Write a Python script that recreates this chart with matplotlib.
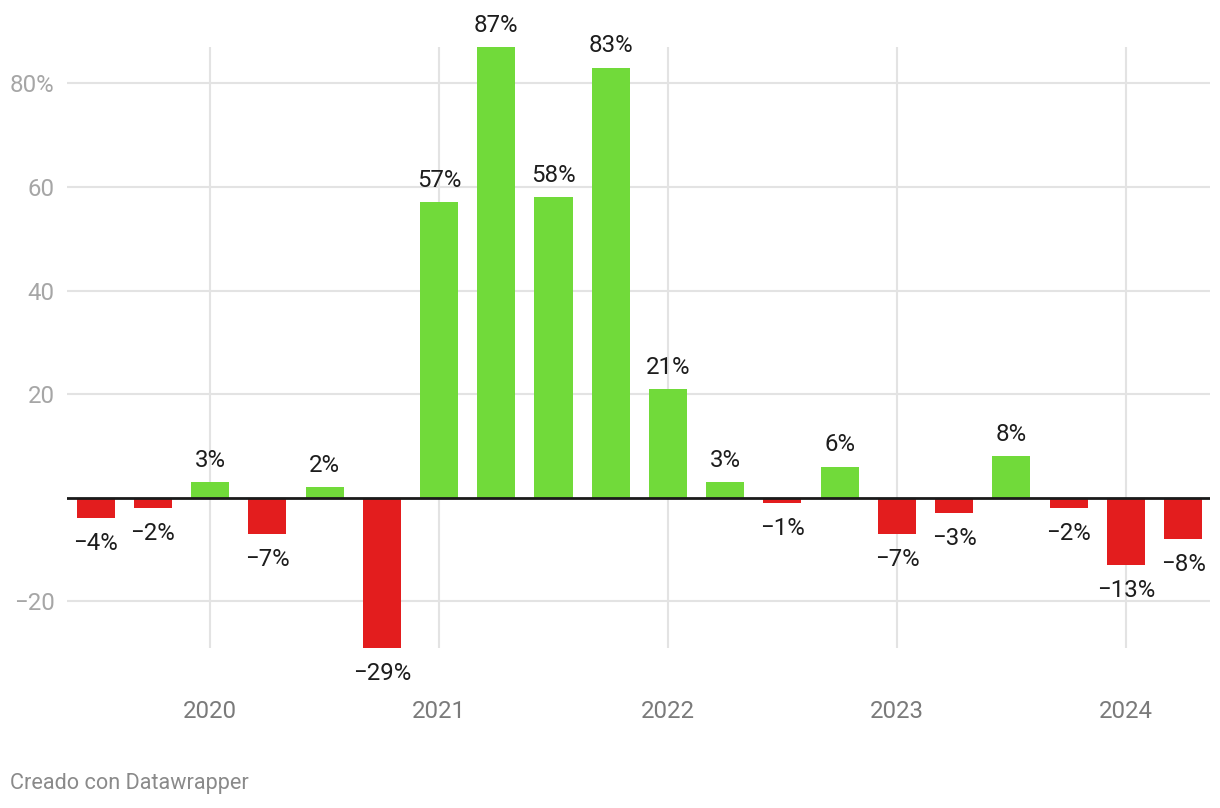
import matplotlib
matplotlib.use("Agg")
import matplotlib.pyplot as plt
import numpy as np

plt.rcParams['font.family'] = ['Roboto', 'DejaVu Sans']

quarters = ["2019-Q3", "2019-Q4", "2020-Q1", "2020-Q2", "2020-Q3", "2020-Q4",
            "2021-Q1", "2021-Q2", "2021-Q3", "2021-Q4", "2022-Q1", "2022-Q2",
            "2022-Q3", "2022-Q4", "2023-Q1", "2023-Q2", "2023-Q3", "2023-Q4",
            "2024-Q1", "2024-Q2"]
values = [-4, -2, 3, -7, 2, -29, 57, 87, 58, 83, 21, 3, -1, 6, -7, -3, 8, -2, -13, -8]
year_labels = ["2020", "2021", "2022", "2023", "2024"]
y_ticks = [-20, 20, 40, 60, 80]

GREEN = "#71da3a"
RED = "#e31d1e"
FS = 17.3

W, H = 1220, 808
fig = plt.figure(figsize=(W / 100, H / 100), dpi=100)
left, right, top, bottom = 67, 1210, 47, 648
ax = fig.add_axes([left / W, 1 - bottom / H, (right - left) / W, (bottom - top) / H])

x = np.arange(len(values))
colors = [GREEN if v >= 0 else RED for v in values]
ax.bar(x, values, width=0.665, color=colors, zorder=3)

XL, XR = -0.5, 19.47
ax.set_xlim(XL, XR)
ax.set_ylim(min(values), max(values))

# grid
for yt in y_ticks:
    ax.axhline(yt, color="#e3e3e3", lw=1.5, zorder=1)
year_pos = [quarters.index(y + "-Q1") for y in year_labels]
for xp in year_pos:
    ax.axvline(xp, color="#e3e3e3", lw=1.5, zorder=1)
ax.axhline(0, color="#1a1a1a", lw=2, zorder=4)

for s in ax.spines.values():
    s.set_visible(False)
ax.set_xticks([])
ax.set_yticks([])

def fmt(v):
    return ("\u2212" if v < 0 else "") + f"{abs(v)}%"

for xi, v in zip(x, values):
    if v >= 0:
        ax.annotate(fmt(v), (xi, v), xytext=(0, 11), textcoords="offset points",
                    ha="center", va="baseline", fontsize=FS, color="#1d1d1d", zorder=5)
    else:
        ax.annotate(fmt(v), (xi, v), xytext=(0, -10), textcoords="offset points",
                    ha="center", va="top", fontsize=FS, color="#1d1d1d", zorder=5)

# y tick labels
for yt in y_ticks:
    lab = ("\u2212" if yt < 0 else "") + str(abs(yt)) + ("%" if yt == max(y_ticks) else "")
    ax.annotate(lab, (0, yt), xycoords=("axes fraction", "data"), xytext=(-9, 0),
                textcoords="offset points", ha="right", va="center_baseline",
                fontsize=FS, color="#a6a6a6")

# x year labels
for xp, lab in zip(year_pos, year_labels):
    ax.annotate(lab, (xp, 0), xycoords=("data", "axes fraction"), xytext=(0, -46),
                textcoords="offset points", ha="center", va="center",
                fontsize=FS, color="#7a7a7a")

fig.text(10 / W, 1 - 784 / H, "Creado con Datawrapper", ha="left", va="center",
         fontsize=15.6, color="#8a8a8a")

fig.savefig("out.png", dpi=100, facecolor="white")
